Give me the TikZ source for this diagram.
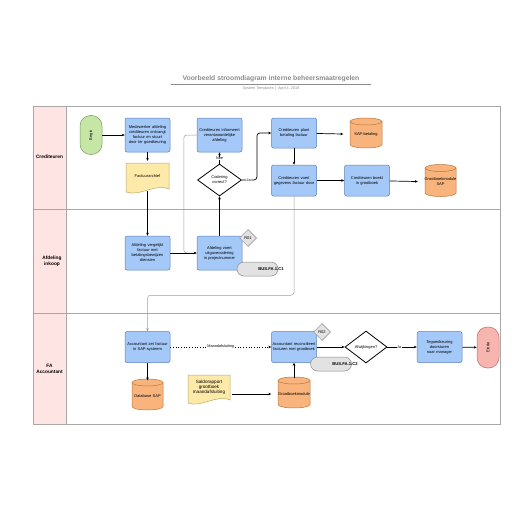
\documentclass[tikz,border=0pt]{standalone}
\usepackage{fontspec}
\usepackage{graphicx}
\setmainfont{Liberation Sans}
\usetikzlibrary{shapes.geometric,arrows.meta}
\definecolor{boxblue}{HTML}{A4C8F8}
\definecolor{boxblueb}{HTML}{5B7FB5}
\definecolor{startgreen}{HTML}{C6E6A6}
\definecolor{startgreenb}{HTML}{7A9A5E}
\definecolor{endpink}{HTML}{F7B5B0}
\definecolor{endpinkb}{HTML}{C06A66}
\definecolor{docyellow}{HTML}{FDE9A8}
\definecolor{docyellowb}{HTML}{B8A870}
\definecolor{cylorange}{HTML}{F8B47C}
\definecolor{cylorangeb}{HTML}{B8763C}
\definecolor{graybox}{HTML}{E2E2E2}
\definecolor{grayboxb}{HTML}{8A8A8A}
\definecolor{lanegray}{HTML}{A8A8A8}
\definecolor{lanepink}{HTML}{FFE4E4}
\definecolor{titlegray}{HTML}{8C8C8C}
\newcommand\boxfont{\fontsize{4}{5}\selectfont\hyphenpenalty=10000\exhyphenpenalty=10000}
\newcommand\mycyl[6]{%
\filldraw[cylst] ({#2-#4/2},{#3-#5/2+3.5}) -- ({#2-#4/2},{#3+#5/2-3.5}) arc[start angle=180,end angle=360,x radius={#4*0.5pt},y radius=3.5pt] -- ({#2+#4/2},{#3-#5/2+3.5}) arc[start angle=0,end angle=180,x radius={#4*0.5pt},y radius=3.5pt] -- cycle;
\draw[cylst,fill=none] ({#2-#4/2},{#3-#5/2+3.5}) arc[start angle=180,end angle=360,x radius={#4*0.5pt},y radius=3.5pt];
\node[plaintext, minimum width=#4pt, minimum height=#5pt] (#1) at (#2,{#3+1.5}) {#6};
}
\newcommand\mydoc[6]{%
\filldraw[docst] ({#2-#4/2},{#3-#5/2}) -- ({#2+#4/2},{#3-#5/2}) -- ({#2+#4/2},{#3+#5/2-4}) .. controls ({#2+#4/6},{#3+#5/2-10}) and ({#2-#4/6},{#3+#5/2+4}) .. ({#2-#4/2},{#3+#5/2-1}) -- cycle;
\node[plaintext, minimum width=#4pt, minimum height=#5pt] (#1) at (#2,{#3-2}) {#6};
}
\begin{document}
\begin{tikzpicture}[x=1pt,y=-1pt,
  proc/.style={draw=boxblueb, fill=boxblue, line width=0.5pt, rounded corners=2pt, minimum width=45pt, minimum height=34pt, inner sep=0.5pt, text width=44pt, align=center, font=\boxfont},
  plaintext/.style={inner sep=0.5pt, text width=44pt, align=center, font=\boxfont},
  cylst/.style={draw=cylorangeb, fill=cylorange, line width=0.5pt},
  docst/.style={draw=docyellowb, fill=docyellow, line width=0.5pt},
  dec/.style={diamond, draw=black, fill=white, line width=0.8pt, minimum width=44pt, minimum height=32pt, inner sep=0pt, aspect=1.4, font=\boxfont, align=center},
  rdia/.style={diamond, draw=grayboxb, fill=graybox, line width=0.5pt, minimum width=17pt, minimum height=17pt, inner sep=0pt, font=\fontsize{4}{5}\selectfont},
  bus/.style={draw=grayboxb, fill=graybox, line width=0.5pt, rounded corners=7pt, minimum width=41pt, minimum height=14pt, inner sep=0pt},
  bustext/.style={inner sep=0pt, font=\fontsize{4.2}{5}\selectfont\bfseries},
  arr/.style={-{Stealth[length=3pt,width=2.6pt]}, line width=0.7pt, draw=black},
  garr/.style={-{Stealth[length=3pt,width=2.6pt]}, line width=0.5pt, draw=gray!75, rounded corners=3pt},
  lbl/.style={fill=white, inner sep=0.6pt, font=\fontsize{3.8}{4.5}\selectfont},
  lanelbl/.style={font=\fontsize{4.8}{5.8}\selectfont\bfseries, align=center, inner sep=0pt}
]
\useasboundingbox (0,0) rectangle (516,516);
% title
\node[font=\fontsize{6.8}{8}\selectfont\bfseries, text=titlegray, inner sep=0pt] (title) at (271,78.5) {Voorbeeld stroomdiagram interne beheersmaatregelen};
\draw[titlegray, line width=0.5pt] (171,84) -- (371,84);
\node[font=\fontsize{3.8}{4.5}\selectfont, text=titlegray, inner sep=0pt] (subtitle) at (271,89) {System Templates \,|\, April 4, 2018};
% lanes
\fill[white] (33,106) rectangle (500,424);
\fill[lanepink] (33,106) rectangle (66,424);
\draw[lanegray, line width=0.6pt] (33,106) rectangle (500,424);
\draw[lanegray, line width=0.6pt] (66,106) -- (66,424);
\draw[lanegray, line width=0.6pt] (33,209) -- (500,209);
\draw[lanegray, line width=0.6pt] (33,313) -- (500,313);
\node[lanelbl] (lane1) at (49.5,157) {Crediteuren};
\node[lanelbl] (lane2) at (52,261) {Afdeling\\inkoop};
\node[lanelbl] (lane3) at (49.5,369) {FA\\Accountant};
% lane 1
\node[draw=startgreenb, fill=startgreen, line width=0.5pt, rounded corners=10.5pt, minimum width=22pt, minimum height=39pt, inner sep=0pt, font=\fontsize{4}{5}\selectfont] (begin) at (91,135) {\rotatebox{90}{Begin}};
\node[proc] (b1) at (147.5,135) {Medewerker afdeling crediteuren ontvangt factuur en stuurt door ter goedkeuring};
\mydoc{doc1}{147.5}{178}{43}{30}{Factuurarchief}
\node[proc] (b2) at (219.5,135) {Crediteuren informeert verantwoordelijke afdeling};
\node[dec] (dia1) at (219.5,180) {Codering\\correct?};
\node[proc, minimum height=30pt] (b3) at (294,133) {Crediteuren plant betaling factuur};
\mycyl{cyl1}{366}{133}{32}{30}{SAP-betaling}
\node[proc, minimum height=31pt] (b4) at (294,180.5) {Crediteuren voert gegevens factuur door};
\node[proc, minimum height=31pt, minimum width=44pt] (b5) at (367,180.5) {Crediteuren boekt in grootboek};
\mycyl{cyl2}{440.5}{180.5}{31}{32}{Grootboekmodule\\SAP}
% lane 2
\node[proc] (b6) at (147.5,253) {Afdeling vergelijkt factuur met betalingsbewijzen diensten};
\node[proc] (b7) at (219.5,253) {Afdeling voert uitgavecodering in projectnummer};
\node[bus] (bus1) at (257.5,269) {};
\node[bustext] (bus1t) at (271,269.5) {BUS.FA.1.C1};
\node[rdia] (r1) at (248,238) {R01};
% lane 3
\node[proc, minimum height=31pt] (b8) at (147.5,347) {Accountant zet factuur in SAP-systeem};
\mycyl{cyl3}{147.5}{394.5}{31}{31}{Database SAP}
\mydoc{doc2}{209}{389.5}{42}{29}{\fontsize{4.6}{5.4}\selectfont Saldorapport\\grootboek\\maandafsluiting}
\mycyl{cyl4}{294}{392.5}{32}{31}{Grootboekmodule}
\node[proc, minimum height=31pt, minimum width=44pt] (b9) at (294,347) {Accountant reconcilieert facturen met grootboek};
\node[bus] (bus2) at (331,364) {};
\node[bustext] (bus2t) at (345,364.5) {BUS.FA.1.C2};
\node[rdia] (r2) at (322,332) {R02};
\node[dec, minimum width=42pt] (dia2) at (366,347) {Afwijkingen?};
\node[proc, minimum height=31pt] (b10) at (439.5,347) {Tegoedkeuring doorsturen naar manager};
\node[draw=endpinkb, fill=endpink, line width=0.5pt, rounded corners=10.5pt, minimum width=22pt, minimum height=41pt, inner sep=0pt, font=\fontsize{4}{5}\selectfont] (einde) at (488,347.5) {\rotatebox{90}{Einde}};
% connectors
\draw[arr] (begin.east) -- (b1.west);
\draw[arr] (b1) -- (doc1);
\draw[arr] (doc1.south) -- (b6.north);
\draw[garr] (b2.west) -- ++(-13,0) |- (b7.west);
\draw[arr] (b6) -- (b7);
\draw[arr] (b7) -- (dia1);
\draw[arr] (dia1) -- node[lbl, pos=0.45] (nee) {Nee} (b2);
\draw[arr, rounded corners=3pt] (dia1.east) -- node[lbl, pos=0.45] (ja1) {Ja} ++(15,0) |- (b3.west);
\draw[arr] (b3) -- (cyl1);
\draw[arr] (b3) -- (b4);
\draw[arr] (b4) -- (b5);
\draw[arr] (b5) -- (cyl2);
\draw[garr] (b4.south) -- ++(0,99) -| (b8.north);
\draw[arr, dotted, line width=0.6pt] (b8) -- node[lbl, pos=0.5] (maand) {Maandafsluiting} (b9);
\draw[arr] (b8) -- (cyl3);
\draw[arr] (doc2.east |- cyl4.west) -- (cyl4.west);
\draw[arr] (cyl4) -- (b9);
\draw[arr] (b9) -- (dia2);
\draw[arr] (dia2) -- node[lbl, pos=0.4] (ja2) {Ja} (b10);
\draw[arr] (b10) -- (einde);
\end{tikzpicture}
\end{document}
